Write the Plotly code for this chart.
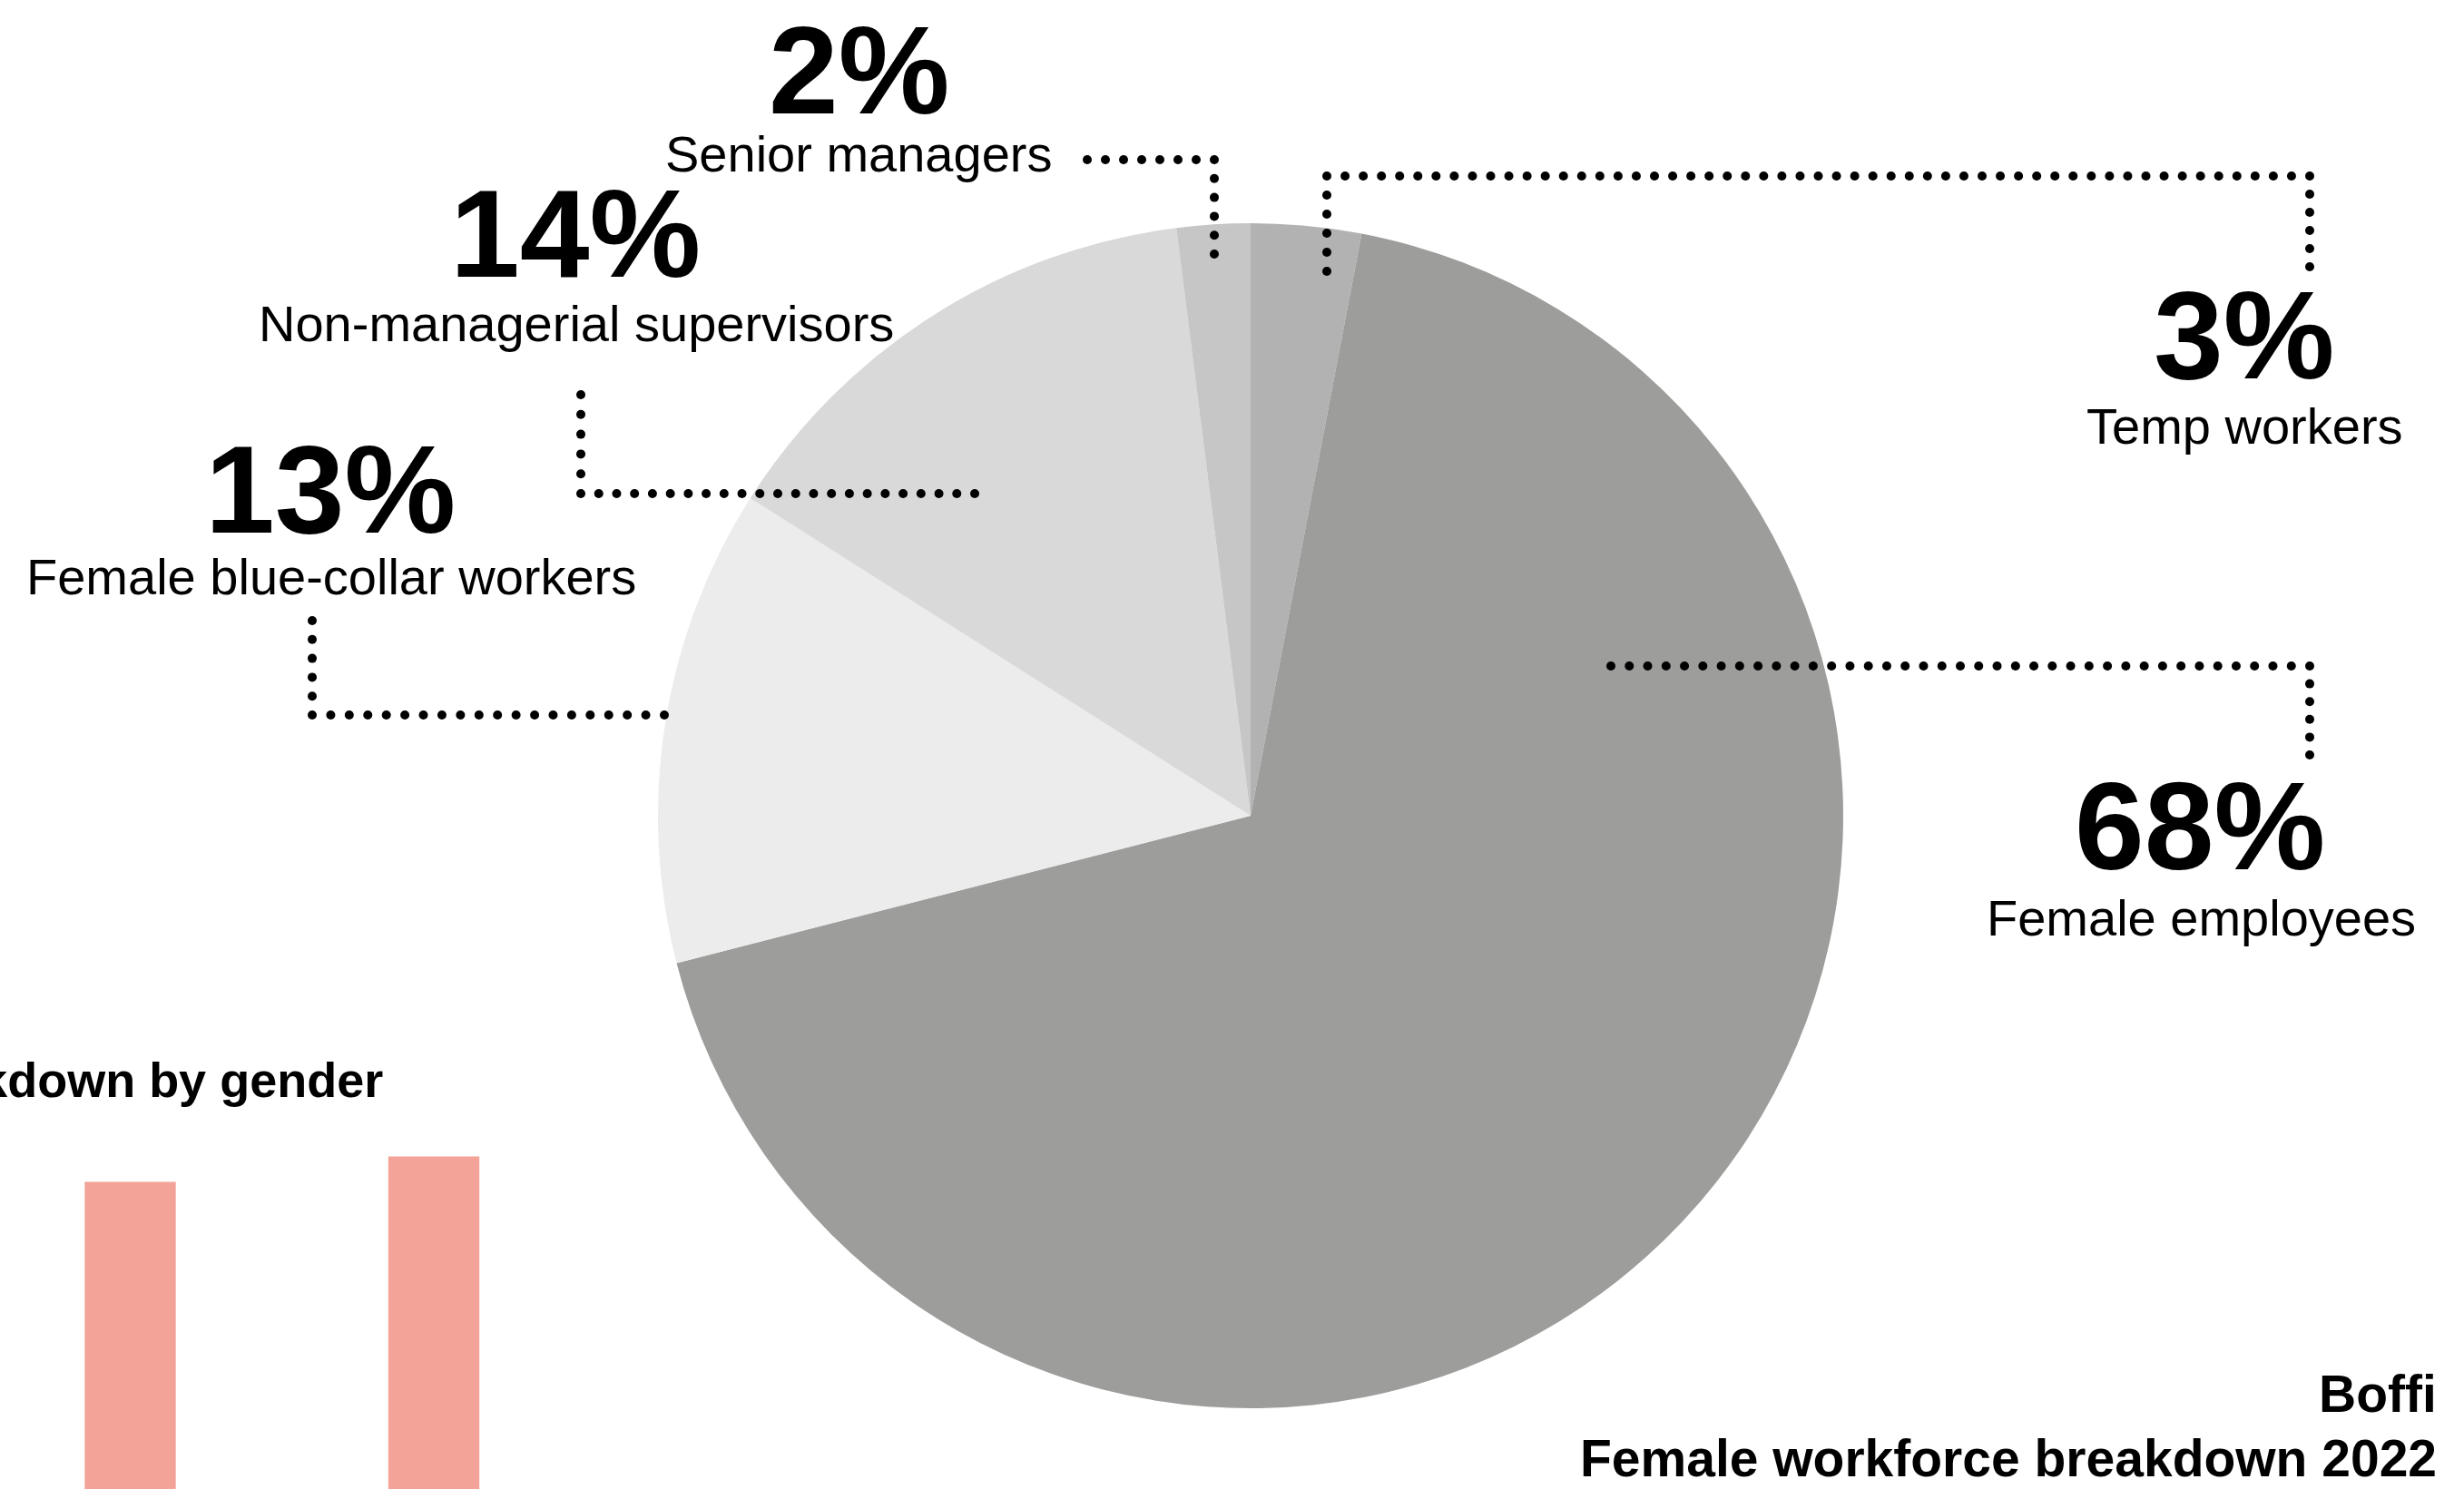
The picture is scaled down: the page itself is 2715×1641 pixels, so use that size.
import numpy as np
import plotly.graph_objects as go

W, H = 2715, 1641

# Pie: female workforce composition (clockwise from 12 o'clock)
segments = ["Temp workers", "Female employees", "Female blue-collar workers",
            "Non-managerial supervisors", "Senior managers"]
shares = [3, 68, 13, 14, 2]
slice_colors = ["#b2b2b2", "#9d9d9b", "#ececec", "#d9d9d9", "#c6c6c6"]

# Bars: workforce breakdown by gender (lower panel)
bar_years = ["2021", "2022"]
bar_values = [41, 43]
bar_color = "#f3a398"

FONT = "Liberation Sans, Arial, Helvetica, sans-serif"


def px(x):
    return x / W


def py(y):
    return 1 - y / H


fig = go.Figure()

# pie centred at (1378, 899) px with radius 653 px
cx, cy, r = 1378, 899, 653
fig.add_trace(go.Pie(
    labels=segments,
    values=shares,
    sort=False,
    direction="clockwise",
    rotation=0,
    marker=dict(colors=slice_colors, line=dict(width=0)),
    textinfo="none",
    hoverinfo="label+percent",
    showlegend=False,
    domain=dict(x=[px(cx - r), px(cx + r)], y=[py(cy + r), py(cy - r)]),
))

fig.add_trace(go.Bar(
    x=bar_years,
    y=bar_values,
    width=0.3,
    marker=dict(color=bar_color, line=dict(width=0)),
    xaxis="x2",
    yaxis="y2",
    showlegend=False,
    hoverinfo="x+y",
))

# dotted leader lines (pixel vertices)
leaders = [
    [(1198, 176), (1338, 176), (1338, 280)],
    [(1462, 299), (1462, 194), (2545, 194), (2545, 294)],
    [(640, 435), (640, 544), (1074, 544)],
    [(344, 684), (344, 788), (732, 788)],
    [(1775, 734), (2545, 734), (2545, 832)],
]
dot_r = 5
shapes = []
for path in leaders:
    pts = []
    for (x0, y0), (x1, y1) in zip(path[:-1], path[1:]):
        length = np.hypot(x1 - x0, y1 - y0)
        n = max(1, int(round(length / 20)))
        for t in np.linspace(0, 1, n + 1):
            pts.append((x0 + (x1 - x0) * t, y0 + (y1 - y0) * t))
    seen = set()
    for x, y in pts:
        key = (round(x), round(y))
        if key in seen:
            continue
        seen.add(key)
        shapes.append(dict(
            type="circle", xref="paper", yref="paper", layer="above",
            x0=px(x - dot_r), x1=px(x + dot_r),
            y0=py(y + dot_r), y1=py(y - dot_r),
            fillcolor="black", line=dict(width=0),
        ))

annotations = []


def label(text, x, y, size, bold=False, anchor="center"):
    annotations.append(dict(
        text=text, x=px(x), y=py(y), xref="paper", yref="paper",
        xanchor=anchor, yanchor="middle", showarrow=False,
        font=dict(family=FONT, size=size, color="black",
                  weight=700 if bold else 400),
    ))


big, small = 138, 56
pct = {s: f"{v}%" for s, v in zip(segments, shares)}

label(pct["Senior managers"], 946, 77, big, True)
label("Senior managers", 946, 169, small)
label(pct["Non-managerial supervisors"], 634, 257, big, True)
label("Non-managerial supervisors", 635, 356, small)
label(pct["Female blue-collar workers"], 364, 539, big, True)
label("Female blue-collar workers", 365, 635, small)
label(pct["Temp workers"], 2472, 369, big, True)
label("Temp workers", 2473, 470, small)
label(pct["Female employees"], 2424, 910, big, True)
label("Female employees", 2425, 1011, small)

label("Workforce breakdown by gender", 424, 1190, 54, True, anchor="right")
label("Boffi", 2687, 1536, 57, True, anchor="right")
label("Female workforce breakdown 2022", 2687, 1607, 57, True, anchor="right")

fig.update_layout(
    width=W, height=H,
    margin=dict(l=0, r=0, t=0, b=0, pad=0),
    paper_bgcolor="white",
    plot_bgcolor="white",
    showlegend=False,
    shapes=shapes,
    annotations=annotations,
    xaxis2=dict(domain=[0, 0.25], anchor="y2", type="category",
                range=[-0.429, 1.6], visible=False, fixedrange=True),
    yaxis2=dict(domain=[0, 0.3], anchor="x2", range=[16.8, 52],
                visible=False, fixedrange=True),
)

fig.write_html("out.html")
